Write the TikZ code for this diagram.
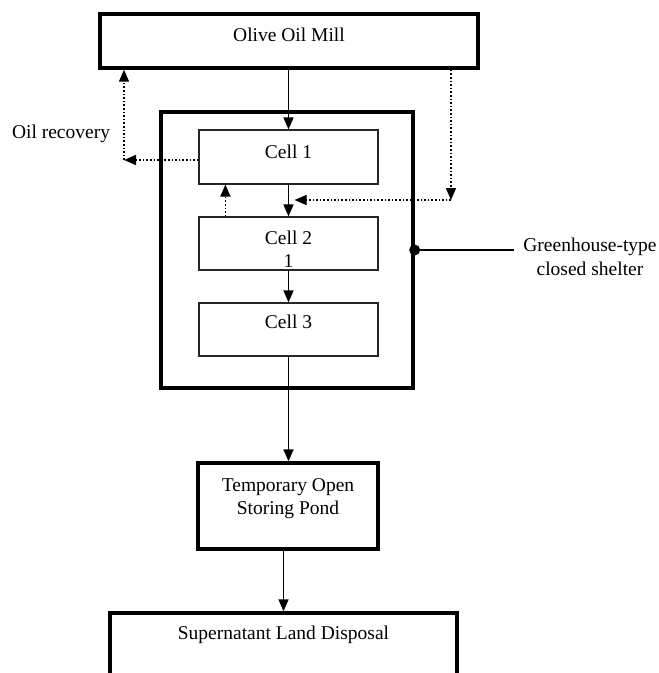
\documentclass[tikz,border=0pt]{standalone}
\usepackage{fontspec}
\setmainfont{Liberation Serif}
\usetikzlibrary{arrows.meta}

\begin{document}
\begin{tikzpicture}[x=1pt, y=-1pt,
    every node/.style={inner sep=0pt, font=\fontsize{19.5}{23.5}\selectfont},
    bigbox/.style={draw, line width=3.4pt, align=center},
    cellbox/.style={draw=black!85, line width=1.2pt, minimum width=179pt, align=center},
    flow/.style={line width=1.6pt, -{Triangle[length=12pt,width=10pt]}},
    recycle/.style={flow, dotted}]
    \useasboundingbox (0,0) rectangle (659,673);
    \clip (0,0) rectangle (659,673);

    % boxes
    \node[bigbox, minimum width=378pt, text height=27.5pt, text depth=26.5pt] (mill) at (289,41) {Olive Oil Mill};
    \node[draw, line width=3.4pt, minimum width=252pt, minimum height=276pt] (shelter) at (287,250) {};
    \node[cellbox, text height=28.5pt, text depth=25.5pt] (c1) at (288.5,157) {Cell 1};
    \node[cellbox, text height=50.5pt, text depth=2.5pt] (c2) at (288.5,243.5) {Cell 2\\1};
    \node[cellbox, text height=25.5pt, text depth=27.5pt] (c3) at (288.5,329.5) {Cell 3};
    \node[bigbox, minimum width=180pt, text height=51.5pt, text depth=34.5pt] (pond) at (288,506) {Temporary Open\\Storing Pond};
    \node[bigbox, minimum width=347pt, text height=26.5pt, text depth=60.5pt] (sup) at (283.5,656.5) {Supernatant Land Disposal};

    % labels
    \node (rcvlabel) at (61,134) {Oil recovery};
    \node[align=center] (ghlabel) at (590,257) {Greenhouse-type\\closed shelter};
    \node[circle, fill, minimum size=11pt] (dot) at (shelter.east) {};

    % main flow
    \draw[flow] (mill.south -| c1.north) -- (c1.north);
    \draw[flow] (c1) -- (c2);
    \draw[flow] (c2) -- (c3);
    \draw[flow] (c3.south) -- (c3.south |- pond.north);
    \draw[flow] (sup.north |- pond.south) -- (sup.north);

    % recovery and recycle lines
    \coordinate (rcv) at (124,160);
    \coordinate (fb) at (451,200);
    \draw[recycle] ([yshift=-3pt]c1.west) -- (rcv);
    \draw[recycle] (rcv) -- (rcv |- mill.south);
    \draw[recycle] (mill.south -| fb) -- (fb);
    \draw[recycle] (fb) -- ([xshift=6pt]c1.south |- fb);
    \draw[recycle] ([xshift=27pt]c2.north west) -- ([xshift=27pt]c1.south west);

    \draw[line width=1.6pt] (dot) -- ([xshift=-9pt]ghlabel.west |- dot);
\end{tikzpicture}
\end{document}
